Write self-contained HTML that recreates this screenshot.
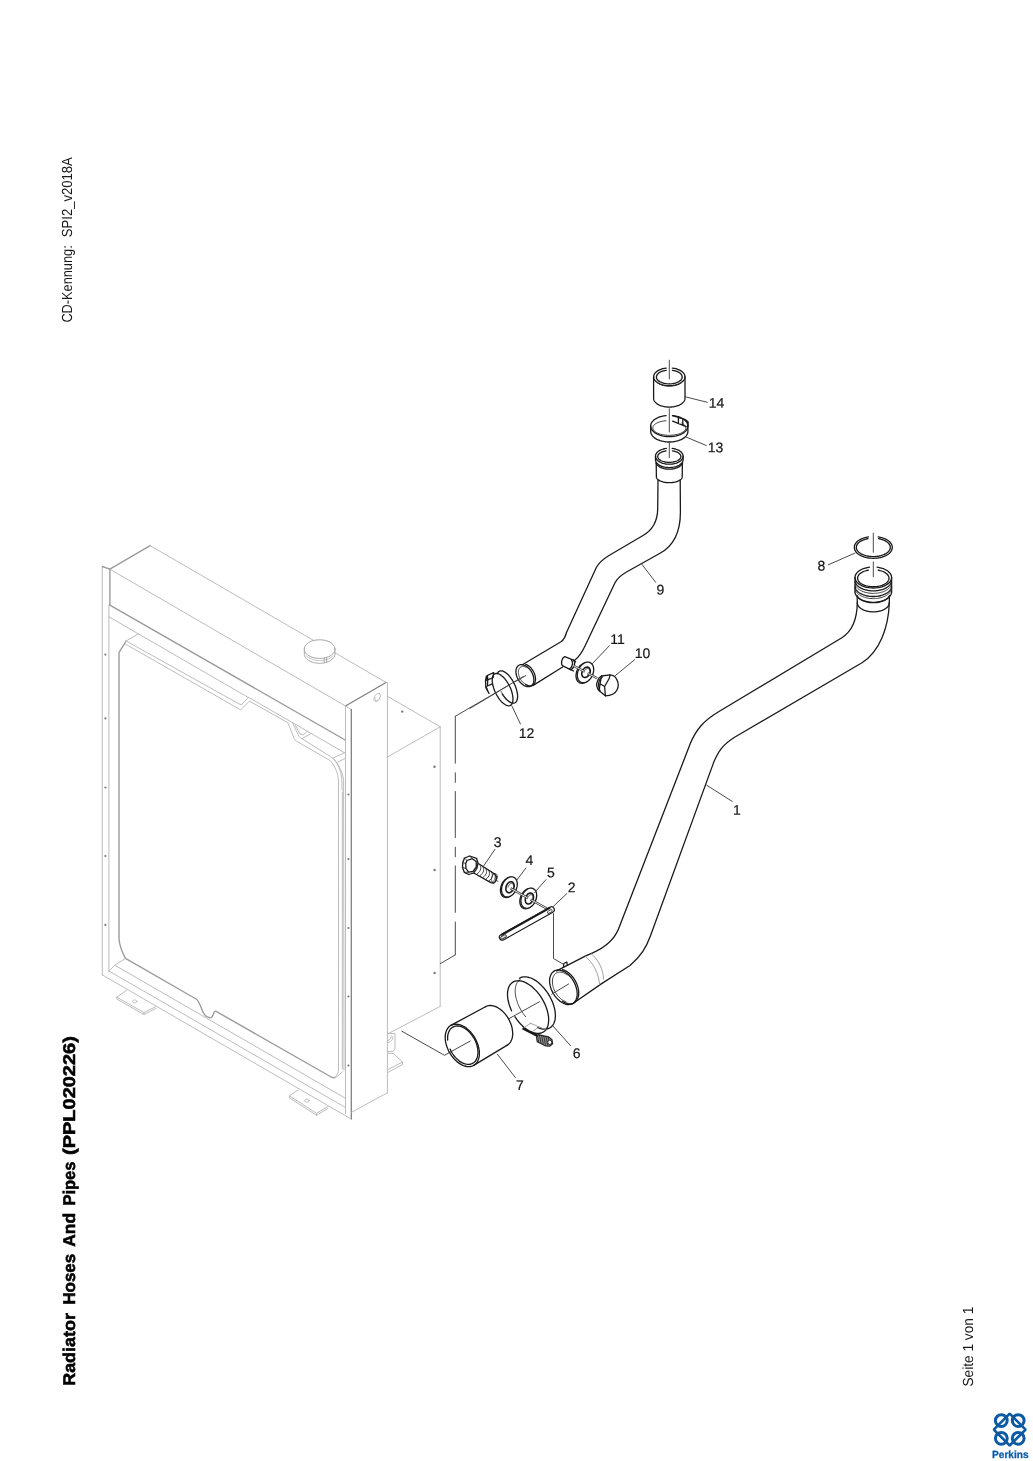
<!DOCTYPE html>
<html><head><meta charset="utf-8"><title>Radiator Hoses And Pipes (PPL020226)</title>
<style>
html,body{margin:0;padding:0;background:#fff;}
body{width:1033px;height:1461px;overflow:hidden;font-family:"Liberation Sans",sans-serif;}
svg{display:block;position:absolute;left:0;top:0;}
text{font-family:"Liberation Sans",sans-serif;text-rendering:geometricPrecision;}
path{fill:none;stroke-linecap:round;stroke-linejoin:round;}
.g1{stroke:#b4b4b4;stroke-width:0.9;}
.g2{stroke:#9c9c9c;stroke-width:1.4;}
.g3{stroke:#808080;stroke-width:1.3;}
.gd{fill:#7a7a7a;stroke:none;}
.gc{stroke:#a4a4a4;stroke-width:1;}
.k{stroke:#1a1a1a;stroke-width:1.3;}
.kw{stroke:#1a1a1a;stroke-width:1.3;fill:#fff;}
.kt{stroke:#2a2a2a;stroke-width:0.9;}
.kl{stroke:#8a8a8a;stroke-width:0.8;}
.ld{stroke:#4a4a4a;stroke-width:1;}
.ax{stroke:#4a4a4a;stroke-width:1;}
.rod{stroke:#333;stroke-width:2.3;stroke-linecap:butt;}
.rodw{stroke:#fff;stroke-width:0.9;stroke-linecap:butt;}
.lbl{fill:#161616;stroke:#161616;stroke-width:0.2;}
text{filter:opacity(1);}
.bl{stroke:#0b5aa2;}
</style></head>
<body>
<svg width="1033" height="1461" viewBox="0 0 1033 1461">
<text transform="translate(75.2,1385.8) rotate(-90)" font-size="17" font-weight="bold" fill="#000" stroke="#000" stroke-width="0.55" textLength="72.7" lengthAdjust="spacingAndGlyphs">Radiator</text>
<text transform="translate(75.2,1304.6) rotate(-90)" font-size="17" font-weight="bold" fill="#000" stroke="#000" stroke-width="0.55" textLength="50.8" lengthAdjust="spacingAndGlyphs">Hoses</text>
<text transform="translate(75.2,1246.7) rotate(-90)" font-size="17" font-weight="bold" fill="#000" stroke="#000" stroke-width="0.55" textLength="33.7" lengthAdjust="spacingAndGlyphs">And</text>
<text transform="translate(75.2,1205.6) rotate(-90)" font-size="17" font-weight="bold" fill="#000" stroke="#000" stroke-width="0.55" textLength="44" lengthAdjust="spacingAndGlyphs">Pipes</text>
<text transform="translate(75.2,1154.9) rotate(-90)" font-size="17" font-weight="bold" fill="#000" stroke="#000" stroke-width="0.55" textLength="118.7" lengthAdjust="spacingAndGlyphs">(PPL020226)</text>
<text transform="translate(72.2,322.6) rotate(-90)" font-size="14.6" fill="#1a1a1a" textLength="77.3" lengthAdjust="spacingAndGlyphs">CD-Kennung:</text>
<text transform="translate(72.2,237.2) rotate(-90)" font-size="14.6" fill="#1a1a1a" textLength="80" lengthAdjust="spacingAndGlyphs">SPI2_v2018A</text>
<text transform="translate(973.3,1386.6) rotate(-90)" font-size="14.6" fill="#1a1a1a" textLength="80" lengthAdjust="spacingAndGlyphs">Seite 1 von 1</text>
<g fill="none" stroke="#0b5aa2">
<path style="stroke-linejoin:bevel;stroke-width:2.6" d="M1009.7,1413.7 L1025.6,1429.6 L1009.7,1445.5 L993.8,1429.6 Z"/>
<circle cx="1001.3" cy="1420.6" r="5.9" stroke-width="3"/>
<circle cx="1018.2" cy="1420.6" r="5.9" stroke-width="3"/>
<circle cx="1001.3" cy="1438.3" r="5.9" stroke-width="3"/>
<circle cx="1018.2" cy="1438.3" r="5.9" stroke-width="3"/>
</g>
<text x="992" y="1458.2" font-size="10.4" font-weight="bold" fill="#0b5aa2" stroke="#0b5aa2" stroke-width="0.25" textLength="36.6" lengthAdjust="spacingAndGlyphs">Perkins</text>
<path class="g1" d="M102.3,566.5 L102.3,974.9" />
<path class="g2" d="M102.3,566.5 L109.9,569.2" />
<path class="g2" d="M109.9,569.2 L109.9,605.2" />
<path class="g1" d="M108.9,605.2 L108.9,971" />
<path class="g2" d="M109.9,569.2 L150.1,545.6" />
<path class="g1" d="M150.1,545.6 L385.8,682.3" />
<path class="g1" d="M109.9,569.2 L345.5,706" />
<path class="g2" d="M109.9,605.2 L345.2,740" />
<path class="g3" d="M345.5,706 L386,682.5" />
<path class="g1" d="M108.9,616.8 L248.5,697.6" />
<path class="g1" d="M345.5,706 L345.5,1113.5" />
<path class="g1" d="M345.5,706 L351.3,709.5" />
<path class="g3" d="M351.3,709.5 L351.3,1119" />
<path class="g1" d="M387.4,682.5 L387.4,1093" />
<path class="g1" d="M351.3,1112.4 L387.4,1092.8" />
<path class="g1" d="M379.3,693.6 L379.6,693.8 L379.8,694.1 L380,694.4 L380.2,694.8 L380.3,695.2 L380.3,695.7 L380.3,696.2 L380.2,696.7 L380.1,697.2 L379.9,697.7 L379.7,698.2 L379.4,698.8 L379.1,699.2 L378.8,699.7 L378.4,700.1 L378,700.5 L377.6,700.8 L377.2,701 L376.8,701.2 L376.4,701.4 L376,701.4 L375.6,701.4 L375.2,701.4 L374.9,701.2 L374.6,701 L374.4,700.7 L374.2,700.4 L374,700 L373.9,699.6 L373.9,699.1 L373.9,698.6 L374,698.1 L374.1,697.6 L374.3,697.1 L374.5,696.6 L374.8,696 L375.1,695.6 L375.4,695.1 L375.8,694.7 L376.2,694.3 L376.6,694 L377,693.8 L377.4,693.6 L377.8,693.4 L378.2,693.4 L378.6,693.4 L379,693.4 L379.3,693.6Z" />
<path class="g1" d="M379.9,697 L379.8,697.2 L379.7,697.4 L379.7,697.6 L379.6,697.8 L379.5,698.1 L379.4,698.3 L379.3,698.5 L379.2,698.7 L379.1,698.9 L378.9,699.1 L378.8,699.3 L378.6,699.4 L378.5,699.6 L378.3,699.8 L378.2,699.9 L378,700.1 L377.8,700.2 L377.7,700.3 L377.5,700.4 L377.3,700.5 L377.2,700.6 L377,700.6 L376.9,700.7 L376.7,700.7 L376.5,700.7 L376.4,700.7 L376.2,700.7 L376.1,700.7 L376,700.6 L375.8,700.6 L375.7,700.5 L375.6,700.4 L375.5,700.3 L375.4,700.2 L375.3,700.1 L375.3,699.9 L375.2,699.8 L375.2,699.6 L375.1,699.5 L375.1,699.3 L375.1,699.1 L375.1,698.9 L375.1,698.7 L375.1,698.5 L375.1,698.3 L375.2,698.1 L375.2,697.9 L375.3,697.7" />
<path class="g1" d="M102.3,974.9 L351.3,1119.1" />
<path class="g1" d="M108.9,971 L345.5,1107.5" />
<path class="g1" d="M114.8,965.2 L345.5,1098.3" />
<path class="g1" d="M108.9,971 L114.8,965.2 L125.5,958.4" />
<path class="g2" d="M126.1,641 L119,652.6 L119,938 C119.3,946 122,952 125.5,958.4 L196.1,999 C199,1001 200.5,1006 202,1009.7 C203.5,1013.5 205,1016 206.8,1016.5 C208.5,1017.5 210.5,1018 211.6,1017.4 C213,1016.5 213.5,1013 214.5,1011.6 C215,1011 215.5,1011 216.2,1011.4 L330.3,1076.5 C332,1077.6 333.5,1078 334.5,1077.5" />
<path class="g1" d="M334.5,1077.5 C337,1076 338.5,1073 338.5,1069 L338.5,781 C338,772 334.5,765.5 330,760.5 L299,742.6 C296.5,741.5 295,740.5 294.2,738.7 L287.9,722.7 L249.4,701.1 L240.7,709.9 L125.3,644" />
<path class="g1" d="M126.1,641 L138.7,633.7 M126.1,641 L241.1,705 L248.4,697.3" />
<path class="g1" d="M248.4,697.3 L292.7,722.7 L298.1,734.8 C299,737 300.5,738 302,738.7 L332.9,758.1 C338,763 342.5,771 343.6,780.3 L344,1070 M343,1071.5 L335.4,1077.8" />
<path class="g1" d="M292.7,722.7 L344.5,752.8" />
<path class="g1" d="M342.3,792 L342.3,1069" />
<path class="g1" d="M295.5,725.5 L300,734 L303.5,735 L307.3,731 M302,738.7 L310.8,733.6" />
<path class="g1" d="M332.9,758.1 L344.5,752.8 M337.8,762 L345,758.6 M334,759.2 C338,764 341,771 341.7,778 L342.1,790" />
<circle class="gd" cx="105.4" cy="654.6" r="1.1"/>
<circle class="gd" cx="105.4" cy="718.4" r="1.1"/>
<circle class="gd" cx="105.4" cy="787.5" r="1.1"/>
<circle class="gd" cx="105.4" cy="856" r="1.1"/>
<circle class="gd" cx="105.4" cy="924.9" r="1.1"/>
<circle class="gd" cx="348.4" cy="794.5" r="1.1"/>
<circle class="gd" cx="348.4" cy="859" r="1.1"/>
<circle class="gd" cx="348.4" cy="928" r="1.1"/>
<circle class="gd" cx="348.4" cy="996.5" r="1.1"/>
<circle class="gd" cx="348.4" cy="1065.5" r="1.1"/>
<path class="g1" d="M126.5,990.4 L116.8,997.1 L143.9,1012.6 L155.5,1006.8 M116.8,997.1 L116.8,999 L143.9,1014.6 L155.5,1008.6 M143.9,1012.6 L143.9,1014.6" />
<path class="g1" d="M136.8,1001.4 L136.8,1001.6 L136.7,1001.8 L136.6,1001.9 L136.5,1002.1 L136.3,1002.3 L136.2,1002.4 L135.9,1002.5 L135.7,1002.6 L135.4,1002.7 L135.2,1002.8 L134.9,1002.8 L134.6,1002.8 L134.3,1002.8 L134,1002.8 L133.8,1002.7 L133.5,1002.6 L133.3,1002.5 L133,1002.4 L132.9,1002.3 L132.7,1002.1 L132.6,1001.9 L132.5,1001.8 L132.4,1001.6 L132.4,1001.4 L132.4,1001.2 L132.5,1001 L132.6,1000.9 L132.7,1000.7 L132.9,1000.5 L133,1000.4 L133.3,1000.3 L133.5,1000.2 L133.8,1000.1 L134,1000 L134.3,1000 L134.6,1000 L134.9,1000 L135.2,1000 L135.4,1000.1 L135.7,1000.2 L135.9,1000.3 L136.2,1000.4 L136.3,1000.5 L136.5,1000.7 L136.6,1000.9 L136.7,1001 L136.8,1001.2 L136.8,1001.4Z" />
<path class="g1" d="M298,1090 L289.4,1095.9 L316.5,1113.3 L328,1106.5 M289.4,1095.9 L289.4,1097.8 L316.5,1115.3 L328,1108.4 M316.5,1113.3 L316.5,1115.3" />
<path class="g1" d="M309,1100.7 L309,1100.9 L308.9,1101.1 L308.8,1101.2 L308.7,1101.4 L308.5,1101.6 L308.4,1101.7 L308.1,1101.8 L307.9,1101.9 L307.6,1102 L307.4,1102.1 L307.1,1102.1 L306.8,1102.1 L306.5,1102.1 L306.2,1102.1 L306,1102 L305.7,1101.9 L305.5,1101.8 L305.2,1101.7 L305.1,1101.6 L304.9,1101.4 L304.8,1101.2 L304.7,1101.1 L304.6,1100.9 L304.6,1100.7 L304.6,1100.5 L304.7,1100.3 L304.8,1100.2 L304.9,1100 L305.1,1099.8 L305.2,1099.7 L305.5,1099.6 L305.7,1099.5 L306,1099.4 L306.2,1099.3 L306.5,1099.3 L306.8,1099.3 L307.1,1099.3 L307.4,1099.3 L307.6,1099.4 L307.9,1099.5 L308.1,1099.6 L308.4,1099.7 L308.5,1099.8 L308.7,1100 L308.8,1100.2 L308.9,1100.3 L309,1100.5 L309,1100.7Z" />
<path class="g1" d="M387.5,696.3 L440.2,726.8" />
<path class="g1" d="M440.2,726.8 L440.2,1006.4" />
<path class="g1" d="M440.2,726.8 L387.5,757" />
<path class="g1" d="M440.2,1006.4 L387.5,1034" />
<circle class="gd" cx="402.2" cy="711.6" r="1.2"/>
<circle class="gd" cx="434.5" cy="766.8" r="1.2"/>
<circle class="gd" cx="434.6" cy="870" r="1.2"/>
<circle class="gd" cx="434.6" cy="973" r="1.2"/>
<path class="g1" d="M387.5,1033.5 L395,1033.5 L395,1048 C395,1050 393,1051.5 391,1051.5 L387.5,1051.5 M387.5,1042.5 C391,1042.5 393,1040 393,1036.5 M387.5,1040.5 C390,1040.5 391.3,1038.5 391.3,1036" />
<path class="g1" d="M388,1053.2 L393.5,1053.6 L402.5,1062 L402.5,1064.6 L388,1072.4 M402.5,1062 L388,1069.6" />
<path class="gc" style="fill:#fff" d="M304.3,649.1 L304.3,654 304.3,654 L304.3,654.6 L304.4,655.2 L304.6,655.8 L304.8,656.4 L305.1,657 L305.5,657.6 L305.9,658.1 L306.3,658.6 L306.9,659.2 L307.5,659.7 L308.1,660.1 L308.8,660.6 L309.5,661 L310.3,661.4 L311.1,661.7 L312,662.1 L312.8,662.3 L313.7,662.6 L314.7,662.8 L315.6,663 L316.6,663.1 L317.6,663.2 L318.6,663.3 L319.6,663.3 L320.6,663.3 L321.6,663.2 L322.6,663.1 L323.6,663 L324.5,662.8 L325.5,662.6 L326.4,662.3 L327.2,662.1 L328.1,661.7 L328.9,661.4 L329.7,661 L330.4,660.6 L331.1,660.1 L331.7,659.7 L332.3,659.2 L332.9,658.6 L333.3,658.1 L333.7,657.6 L334.1,657 L334.4,656.4 L334.6,655.8 L334.8,655.2 L334.9,654.6 L334.9,654 L334.9,649.1 Z"/>
<path class="gc" style="fill:#fff" d="M334.9,649.1 L334.8,650.3 L334.4,651.5 L333.7,652.7 L332.9,653.8 L331.7,654.8 L330.4,655.7 L328.9,656.5 L327.2,657.2 L325.5,657.7 L323.6,658.1 L321.6,658.3 L319.6,658.4 L317.6,658.3 L315.6,658.1 L313.7,657.7 L312,657.2 L310.3,656.5 L308.8,655.7 L307.5,654.8 L306.3,653.8 L305.5,652.7 L304.8,651.5 L304.4,650.3 L304.3,649.1 L304.4,647.9 L304.8,646.7 L305.5,645.5 L306.3,644.5 L307.5,643.4 L308.8,642.5 L310.3,641.7 L311.9,641 L313.7,640.5 L315.6,640.1 L317.6,639.9 L319.6,639.8 L321.6,639.9 L323.6,640.1 L325.5,640.5 L327.2,641 L328.9,641.7 L330.4,642.5 L331.7,643.4 L332.9,644.5 L333.7,645.5 L334.4,646.7 L334.8,647.9 L334.9,649.1Z"/>
<path class="g1" d="M306.3,655.9 L306.7,656.2 L307.1,656.5 L307.5,656.9 L307.9,657.2 L308.3,657.5 L308.8,657.8 L309.3,658.1 L309.8,658.3 L310.3,658.6 L310.8,658.8 L311.4,659 L312,659.3 L312.5,659.4 L313.1,659.6 L313.7,659.8 L314.4,659.9 L315,660.1 L315.6,660.2 L316.3,660.3 L316.9,660.4 L317.6,660.4 L318.3,660.5 L318.9,660.5 L319.6,660.5 L320.3,660.5 L320.9,660.5 L321.6,660.4 L322.3,660.4 L322.9,660.3 L323.6,660.2 L324.2,660.1 L324.8,659.9 L325.5,659.8 L326.1,659.6 L326.7,659.4 L327.2,659.3 L327.8,659 L328.4,658.8 L328.9,658.6 L329.4,658.3 L329.9,658.1 L330.4,657.8 L330.9,657.5 L331.3,657.2 L331.7,656.9 L332.1,656.5 L332.5,656.2 L332.9,655.9" />
<path class="gc" d="M324.3,658 L324.3,662.6 M326.7,657.6 L326.7,662.1" />
<path class="ax" d="M523.5,676.5 L455.3,716.3" />
<path class="ax" d="M455.3,716.3 L455.3,763.2" />
<path class="ax" d="M455.3,772.8 L455.3,782.4" />
<path class="ax" d="M455.3,791.5 L455.3,837.7" />
<path class="ax" d="M455.3,847.2 L455.3,856.8" />
<path class="ax" d="M455.3,865.9 L455.3,912.4" />
<path class="ax" d="M455.3,922 L455.3,954.8" />
<path class="ax" d="M455.3,954.9 L440.3,963.6" />
<path class="ax" d="M401.8,1031.2 L444.5,1055.3 L470.3,1041" />
<path class="ax" d="M669.3,360.2 L669.3,379" />
<path class="k" d="M672.3,368.1 L674.2,368.3 L676,368.7 L677.6,369.3 L679.2,369.9 L680.6,370.6 L681.9,371.5 L682.9,372.4 L683.8,373.4 L684.4,374.4 L684.8,375.5 L685,376.6 L684.9,377.7 L684.6,378.7 L684.1,379.8 L683.3,380.8 L682.4,381.7 L681.2,382.6 L679.9,383.4 L678.4,384.1 L676.7,384.6 L675,385.1 L673.1,385.4 L671.2,385.6 L669.3,385.7 L667.4,385.6 L665.5,385.4 L663.6,385.1 L661.9,384.6 L660.2,384.1 L658.7,383.4 L657.4,382.6 L656.2,381.7 L655.3,380.8 L654.5,379.8 L654,378.7 L653.7,377.7 L653.6,376.6 L653.8,375.5 L654.2,374.4 L654.8,373.4 L655.7,372.4 L656.7,371.5 L658,370.6 L659.4,369.9 L661,369.3 L662.6,368.7 L664.4,368.3 L666.3,368.1" />
<path class="k" d="M672.4,370.3 L673.9,370.6 L675.3,370.9 L676.7,371.3 L677.9,371.8 L679,372.4 L679.9,373.1 L680.7,373.8 L681.4,374.6 L681.8,375.4 L682.1,376.2 L682.2,377 L682.1,377.8 L681.8,378.7 L681.4,379.5 L680.7,380.2 L679.9,380.9 L678.9,381.6 L677.8,382.2 L676.6,382.7 L675.3,383.1 L673.9,383.5 L672.4,383.7 L670.9,383.8 L669.3,383.9 L667.7,383.8 L666.2,383.7 L664.7,383.5 L663.3,383.1 L662,382.7 L660.8,382.2 L659.7,381.6 L658.7,380.9 L657.9,380.2 L657.2,379.5 L656.8,378.7 L656.5,377.8 L656.4,377 L656.5,376.2 L656.8,375.4 L657.2,374.6 L657.9,373.8 L658.7,373.1 L659.6,372.4 L660.7,371.8 L661.9,371.3 L663.3,370.9 L664.7,370.6 L666.2,370.3" />
<path class="kt" d="M682.6,381 L682.4,381.4 L682.1,381.8 L681.7,382.1 L681.4,382.5 L681,382.8 L680.6,383.2 L680.1,383.5 L679.6,383.8 L679.1,384.1 L678.6,384.4 L678,384.6 L677.4,384.9 L676.8,385.1 L676.2,385.3 L675.6,385.5 L674.9,385.6 L674.3,385.8 L673.6,385.9 L672.9,386 L672.2,386.1 L671.5,386.2 L670.7,386.3 L670,386.3 L669.3,386.3 L668.6,386.3 L667.9,386.3 L667.1,386.2 L666.4,386.1 L665.7,386 L665,385.9 L664.3,385.8 L663.7,385.6 L663,385.5 L662.4,385.3 L661.8,385.1 L661.2,384.9 L660.6,384.6 L660,384.4 L659.5,384.1 L659,383.8 L658.5,383.5 L658,383.2 L657.6,382.8 L657.2,382.5 L656.9,382.1 L656.5,381.8 L656.2,381.4 L656,381" />
<path class="k" d="M653.6,376.8 L653.6,398.2 653.6,398.2 L653.6,398.8 L653.7,399.4 L653.9,399.9 L654.1,400.5 L654.4,401.1 L654.8,401.6 L655.2,402.1 L655.7,402.6 L656.2,403.1 L656.8,403.6 L657.5,404.1 L658.2,404.5 L658.9,404.9 L659.7,405.3 L660.6,405.6 L661.4,405.9 L662.4,406.2 L663.3,406.4 L664.3,406.6 L665.2,406.8 L666.2,406.9 L667.3,407 L668.3,407.1 L669.3,407.1 L670.3,407.1 L671.3,407 L672.4,406.9 L673.4,406.8 L674.3,406.6 L675.3,406.4 L676.2,406.2 L677.1,405.9 L678,405.6 L678.9,405.3 L679.7,404.9 L680.4,404.5 L681.1,404.1 L681.8,403.6 L682.4,403.1 L682.9,402.6 L683.4,402.1 L683.8,401.6 L684.2,401.1 L684.5,400.5 L684.7,399.9 L684.9,399.4 L685,398.8 L685,398.2 L685,376.8" />
<path class="ax" d="M669.3,408.7 L669.3,432" />
<path class="k" d="M672.5,415.6 L674.8,415.9 L676.9,416.3 L678.9,416.9 L680.8,417.7 L682.5,418.6 L684.1,419.5 L685.3,420.6 L686.4,421.8 L687.2,423 L687.7,424.3 L687.9,425.6 L687.8,426.9 L687.5,428.2 L686.9,429.5 L686,430.7 L684.8,431.8 L683.5,432.9 L681.9,433.8 L680.1,434.6 L678.1,435.3 L676,435.9 L673.9,436.3 L671.6,436.5 L669.3,436.6 L667,436.5 L664.7,436.3 L662.6,435.9 L660.5,435.3 L658.5,434.6 L656.7,433.8 L655.1,432.9 L653.8,431.8 L652.6,430.7 L651.7,429.5 L651.1,428.2 L650.8,426.9 L650.7,425.6 L650.9,424.3 L651.4,423 L652.2,421.8 L653.3,420.6 L654.5,419.5 L656.1,418.6 L657.8,417.7 L659.7,416.9 L661.7,416.3 L663.8,415.9 L666.1,415.6" />
<path class="kt" d="M681.9,423.1 L683,423.8 L683.9,424.5 L684.7,425.2 L685.2,426 L685.6,426.7 L685.8,427.5 L685.8,428.3 L685.6,429.1 L685.2,429.9 L684.6,430.7 L683.8,431.4 L682.9,432.1 L681.8,432.7 L680.6,433.3 L679.2,433.8 L677.7,434.3 L676.1,434.6 L674.5,434.9 L672.7,435.1 L671,435.3 L669.2,435.3 L667.4,435.3 L665.6,435.1 L663.9,434.9 L662.3,434.6 L660.7,434.2 L659.2,433.8 L657.9,433.2 L656.7,432.7 L655.6,432 L654.7,431.3 L653.9,430.6 L653.4,429.8 L653,429 L652.8,428.2 L652.8,427.4 L653,426.7 L653.4,425.9 L654,425.1 L654.8,424.4 L655.7,423.7 L656.8,423.1 L658,422.5 L659.4,422 L660.9,421.5 L662.5,421.2 L664.1,420.9 L665.9,420.7" />
<path class="k" d="M650.7,426 L650.7,431.4 650.7,431.4 L650.7,432.1 L650.9,432.8 L651.1,433.5 L651.3,434.1 L651.7,434.8 L652.1,435.5 L652.6,436.1 L653.2,436.7 L653.8,437.3 L654.5,437.9 L655.3,438.4 L656.1,438.9 L657,439.4 L658,439.8 L659,440.2 L660,440.6 L661.1,440.9 L662.2,441.2 L663.3,441.4 L664.5,441.6 L665.7,441.8 L666.9,441.9 L668.1,442 L669.3,442 L670.5,442 L671.7,441.9 L672.9,441.8 L674.1,441.6 L675.3,441.4 L676.4,441.2 L677.5,440.9 L678.6,440.6 L679.6,440.2 L680.6,439.8 L681.6,439.4 L682.5,438.9 L683.3,438.4 L684.1,437.9 L684.8,437.3 L685.4,436.7 L686,436.1 L686.5,435.5 L686.9,434.8 L687.3,434.1 L687.5,433.5 L687.7,432.8 L687.9,432.1 L687.9,431.4 L687.9,426" />
<path class="k" d="M672.6,415.6 L684.2,419.2 L688,421.7 L688,426 M678.4,417.5 L678.4,423.6 M682.8,419.5 L682.8,425.2 M672.6,421.2 L686.2,426.6" />
<path class="k" d="M685.5,419.8 L687.6,421.8 L687.6,424.5" />
<path class="ax" d="M669.3,442.6 L669.3,457.6" />
<path class="k" d="M672.2,448.4 L673.8,448.6 L675.3,449 L676.8,449.5 L678.2,450.1 L679.4,450.7 L680.5,451.5 L681.4,452.3 L682.1,453.2 L682.6,454.1 L683,455.1 L683.1,456.1 L683,457 L682.7,458 L682.3,458.9 L681.6,459.8 L680.7,460.7 L679.7,461.4 L678.5,462.1 L677.2,462.8 L675.8,463.3 L674.2,463.7 L672.6,464 L671,464.1 L669.3,464.2 L667.6,464.1 L666,464 L664.4,463.7 L662.8,463.3 L661.4,462.8 L660.1,462.1 L658.9,461.4 L657.9,460.7 L657,459.8 L656.3,458.9 L655.9,458 L655.6,457 L655.5,456.1 L655.6,455.1 L656,454.1 L656.5,453.2 L657.2,452.3 L658.1,451.5 L659.2,450.7 L660.4,450.1 L661.8,449.5 L663.3,449 L664.8,448.6 L666.4,448.4" />
<path class="k" d="M672.5,450.8 L673.8,451.1 L675,451.4 L676.2,451.8 L677.3,452.2 L678.2,452.7 L679,453.3 L679.7,453.9 L680.2,454.5 L680.6,455.2 L680.8,455.9 L680.9,456.6 L680.8,457.3 L680.5,458 L680.1,458.7 L679.5,459.3 L678.8,459.9 L677.9,460.5 L676.9,461 L675.8,461.4 L674.6,461.7 L673.4,462 L672,462.2 L670.7,462.4 L669.3,462.4 L667.9,462.4 L666.6,462.2 L665.2,462 L664,461.7 L662.8,461.4 L661.7,461 L660.7,460.5 L659.8,459.9 L659.1,459.3 L658.5,458.7 L658.1,458 L657.8,457.3 L657.7,456.6 L657.8,455.9 L658,455.2 L658.4,454.5 L658.9,453.9 L659.6,453.3 L660.4,452.7 L661.3,452.2 L662.4,451.8 L663.6,451.4 L664.8,451.1 L666.1,450.8" />
<path class="k" d="M655.5,456.2 L655.5,459.6 655.5,459.6 L655.5,460.1 L655.6,460.6 L655.8,461.2 L656,461.7 L656.2,462.2 L656.6,462.7 L656.9,463.1 L657.3,463.6 L657.8,464 L658.4,464.5 L658.9,464.9 L659.5,465.3 L660.2,465.6 L660.9,465.9 L661.6,466.3 L662.4,466.5 L663.2,466.8 L664,467 L664.9,467.2 L665.7,467.3 L666.6,467.4 L667.5,467.5 L668.4,467.6 L669.3,467.6 L670.2,467.6 L671.1,467.5 L672,467.4 L672.9,467.3 L673.7,467.2 L674.6,467 L675.4,466.8 L676.2,466.5 L677,466.3 L677.7,465.9 L678.4,465.6 L679.1,465.3 L679.7,464.9 L680.2,464.5 L680.8,464 L681.3,463.6 L681.7,463.1 L682,462.7 L682.4,462.2 L682.6,461.7 L682.8,461.2 L683,460.6 L683.1,460.1 L683.1,459.6 L683.1,456.2" />
<path class="k" d="M656,463 L656.2,463.5 L656.4,463.9 L656.7,464.3 L657,464.7 L657.3,465.1 L657.7,465.5 L658.1,465.8 L658.6,466.2 L659.1,466.5 L659.6,466.9 L660.2,467.2 L660.7,467.5 L661.4,467.7 L662,468 L662.7,468.2 L663.3,468.4 L664,468.6 L664.8,468.8 L665.5,468.9 L666.2,469 L667,469.1 L667.8,469.1 L668.5,469.2 L669.3,469.2 L670.1,469.2 L670.8,469.1 L671.6,469.1 L672.4,469 L673.1,468.9 L673.8,468.8 L674.6,468.6 L675.3,468.4 L675.9,468.2 L676.6,468 L677.2,467.7 L677.9,467.5 L678.4,467.2 L679,466.9 L679.5,466.5 L680,466.2 L680.5,465.8 L680.9,465.5 L681.3,465.1 L681.6,464.7 L681.9,464.3 L682.2,463.9 L682.4,463.5 L682.6,463" />
<path class="k" d="M656.2,462.8 L656.4,476.8 656.4,476.8 L656.4,477.2 L656.5,477.6 L656.6,478 L656.8,478.3 L657.1,478.7 L657.4,479.1 L657.7,479.4 L658.1,479.8 L658.6,480.1 L659.1,480.4 L659.6,480.7 L660.2,481 L660.8,481.2 L661.4,481.5 L662.1,481.7 L662.8,481.9 L663.6,482.1 L664.4,482.3 L665.2,482.4 L666,482.5 L666.8,482.6 L667.6,482.6 L668.5,482.7 L669.3,482.7 L670.1,482.7 L671,482.6 L671.8,482.6 L672.6,482.5 L673.4,482.4 L674.2,482.3 L675,482.1 L675.8,481.9 L676.5,481.7 L677.2,481.5 L677.8,481.2 L678.4,481 L679,480.7 L679.5,480.4 L680,480.1 L680.5,479.8 L680.9,479.4 L681.2,479.1 L681.5,478.7 L681.8,478.3 L682,478 L682.1,477.6 L682.2,477.2 L682.2,476.8 L682.4,462.8" />
<path class="k" d="M658,480 L657.7,509 C657.5,522 652,530.5 642.6,535.8 L609,555.5 C602.5,559.5 598.5,563 596.2,567.8 L566.5,632.5 C565.5,636.5 564,639.5 561,641.8 L522.3,664.8" />
<path class="k" d="M680.2,480 L680.4,512 C680.5,532 673,546 660,553.3 L626.5,572 C620.5,575.5 617.5,578 615,582.8 L585,646 C582,652.5 579.5,656.5 574.5,660.5" />
<path class="k" d="M532.8,685.6 L562.6,667" />
<path class="k" d="M533.9,679.9 L533.8,681.2 L533.6,682.4 L533.2,683.5 L532.7,684.4 L532,685.3 L531.3,685.9 L530.4,686.4 L529.4,686.7 L528.3,686.7 L527.2,686.7 L526.1,686.4 L524.9,685.9 L523.7,685.3 L522.6,684.5 L521.5,683.5 L520.4,682.5 L519.4,681.3 L518.5,680 L517.8,678.6 L517.1,677.2 L516.6,675.7 L516.2,674.3 L516,672.9 L515.9,671.5 L516,670.2 L516.2,669 L516.6,667.9 L517.1,667 L517.8,666.1 L518.5,665.5 L519.4,665 L520.4,664.7 L521.5,664.7 L522.6,664.7 L523.7,665 L524.9,665.5 L526.1,666.1 L527.2,666.9 L528.3,667.9 L529.4,668.9 L530.4,670.1 L531.3,671.4 L532,672.8 L532.7,674.2 L533.2,675.7 L533.6,677.1 L533.8,678.5 L533.9,679.9Z" />
<path class="k" d="M525.7,664.3 L526.3,664.5 L527,664.8 L527.6,665.2 L528.2,665.6 L528.8,666 L529.4,666.5 L530,667 L530.5,667.6 L531.1,668.1 L531.6,668.8 L532.1,669.4 L532.6,670.1 L533,670.8 L533.4,671.5 L533.8,672.3 L534.2,673 L534.5,673.8 L534.7,674.5 L535,675.3 L535.2,676.1 L535.3,676.8 L535.4,677.6 L535.5,678.3 L535.5,679 L535.5,679.7 L535.4,680.4 L535.3,681 L535.2,681.6 L535,682.2 L534.7,682.8 L534.5,683.3 L534.2,683.7 L533.8,684.2 L533.4,684.5 L533,684.9 L532.6,685.2 L532.1,685.4 L531.6,685.6 L531.1,685.7 L530.5,685.8 L530,685.8 L529.4,685.8 L528.8,685.8 L528.2,685.6 L527.6,685.4 L527,685.2 L526.3,684.9 L525.7,684.6" />
<path class="kt" d="M526.9,684.6 L526.3,684.5 L525.8,684.3 L525.3,684 L524.8,683.7 L524.3,683.4 L523.8,683 L523.3,682.6 L522.8,682.2 L522.4,681.7 L521.9,681.2 L521.5,680.7 L521.1,680.1 L520.7,679.6 L520.3,679 L520,678.3 L519.7,677.7 L519.4,677.1 L519.2,676.4 L519,675.8 L518.8,675.1 L518.6,674.5 L518.5,673.8 L518.4,673.2 L518.4,672.6 L518.4,672 L518.4,671.4 L518.5,670.8 L518.6,670.3 L518.7,669.7 L518.9,669.3 L519.1,668.8 L519.4,668.4 L519.6,668 L519.9,667.6 L520.3,667.3 L520.6,667.1 L521,666.9 L521.4,666.7 L521.8,666.5 L522.3,666.4 L522.7,666.4 L523.2,666.4 L523.7,666.5 L524.2,666.6 L524.7,666.7 L525.2,666.9 L525.7,667.1 L526.2,667.4" />
<path class="k" d="M564.7,656.6 C561.5,658 560.5,664 562.8,665.9 L570.9,669.8 M564.7,656.6 L573.6,660.1" />
<path class="k" d="M573.6,660.1 C575.8,662 574.5,668 570.9,669.8 M571.6,660.3 C573.6,662.5 572.3,667.5 569.3,669" />
<path class="k" d="M574.3,661 L575.6,661.8 M571.8,670.2 L573.6,671" />
<path class="kw" d="M592.4,670.2 L592.3,671.5 L592.1,672.9 L591.8,674.2 L591.3,675.5 L590.7,676.8 L590,678 L589.2,679.2 L588.3,680.2 L587.3,681.1 L586.3,681.8 L585.3,682.5 L584.2,682.9 L583.1,683.2 L582.1,683.3 L581.1,683.2 L580.1,683 L579.2,682.6 L578.4,682 L577.7,681.3 L577.1,680.4 L576.6,679.4 L576.3,678.3 L576.1,677.1 L576,675.8 L576.1,674.5 L576.3,673.1 L576.6,671.8 L577.1,670.5 L577.7,669.2 L578.4,668 L579.2,666.8 L580.1,665.8 L581.1,664.9 L582.1,664.2 L583.1,663.5 L584.2,663.1 L585.3,662.8 L586.3,662.7 L587.3,662.8 L588.3,663 L589.2,663.4 L590,664 L590.7,664.7 L591.3,665.6 L591.8,666.6 L592.1,667.7 L592.3,668.9 L592.4,670.2Z"/>
<path class="kw" d="M593.7,669.6 L593.6,670.9 L593.4,672.3 L593.1,673.6 L592.6,674.9 L592,676.2 L591.3,677.4 L590.5,678.6 L589.6,679.6 L588.6,680.5 L587.6,681.2 L586.6,681.9 L585.5,682.3 L584.4,682.6 L583.4,682.7 L582.4,682.6 L581.4,682.4 L580.5,682 L579.7,681.4 L579,680.7 L578.4,679.8 L577.9,678.8 L577.6,677.7 L577.4,676.5 L577.3,675.2 L577.4,673.9 L577.6,672.5 L577.9,671.2 L578.4,669.9 L579,668.6 L579.7,667.4 L580.5,666.2 L581.4,665.2 L582.4,664.3 L583.4,663.6 L584.4,662.9 L585.5,662.5 L586.6,662.2 L587.6,662.1 L588.6,662.2 L589.6,662.4 L590.5,662.8 L591.3,663.4 L592,664.1 L592.6,665 L593.1,666 L593.4,667.1 L593.6,668.3 L593.7,669.6Z"/>
<path class="kw" style="stroke-width:1.6" d="M590.2,670.9 L590.2,671.6 L590.1,672.2 L589.9,672.9 L589.6,673.6 L589.3,674.2 L589,674.9 L588.6,675.4 L588.1,675.9 L587.6,676.4 L587.1,676.8 L586.5,677.1 L586,677.3 L585.5,677.4 L584.9,677.5 L584.4,677.5 L583.9,677.3 L583.4,677.1 L583,676.8 L582.7,676.5 L582.4,676 L582.1,675.5 L581.9,674.9 L581.8,674.3 L581.8,673.7 L581.8,673 L581.9,672.4 L582.1,671.7 L582.4,671 L582.7,670.4 L583,669.7 L583.4,669.2 L583.9,668.7 L584.4,668.2 L584.9,667.8 L585.5,667.5 L586,667.3 L586.5,667.2 L587.1,667.1 L587.6,667.1 L588.1,667.3 L588.6,667.5 L589,667.8 L589.3,668.1 L589.6,668.6 L589.9,669.1 L590.1,669.7 L590.2,670.3 L590.2,670.9Z"/>
<path class="kt" d="M584.1,672.2 L584.2,671.8 L584.3,671.5 L584.4,671.2 L584.6,670.9 L584.7,670.6 L584.9,670.3 L585.1,670.1 L585.3,669.8 L585.5,669.6 L585.8,669.4 L586,669.2 L586.3,669 L586.5,668.9 L586.7,668.8 L587,668.7 L587.2,668.6 L587.5,668.6 L587.7,668.6 L588,668.6 L588.2,668.7 L588.4,668.7 L588.6,668.8 L588.8,669 L589,669.1 L589.2,669.3 L589.3,669.5 L589.5,669.7 L589.6,670 L589.7,670.2 L589.8,670.5 L589.8,670.8 L589.9,671.1 L589.9,671.4 L589.9,671.7 L589.9,672 L589.8,672.3 L589.8,672.7 L589.7,673 L589.6,673.3 L589.5,673.6 L589.3,673.9 L589.2,674.2 L589,674.5 L588.8,674.8 L588.6,675 L588.4,675.3 L588.2,675.5 L587.9,675.7" />
<path class="rod" d="M573,665.5 L584,671.3" />
<path class="rodw" d="M573,665.5 L584,671.3" />
<path class="rod" d="M587.5,673.2 L597.2,678.3" />
<path class="rodw" d="M587.5,673.2 L597.2,678.3" />
<path class="kw" d="M601.5,676 L610,674.8 C613,675 616,677.5 617,679.9 C618.5,683 618.5,687 617,690 C615.5,693 612,695.8 605.4,695.8 L599.2,690.7 C596.5,688 596.3,684 597.5,681 C598.5,678.5 600,676.5 601.5,676 Z" />
<path class="k" d="M601.5,676 L600,683.8 L599.2,690.7 M600,683.8 L604.6,686.5 L609.3,678.3 M604.6,686.5 L605.4,695.8 M609.3,678.3 L610,674.8" />
<path class="k" d="M602.3,677 C600,678.5 598.5,682 598.6,685.5 C598.7,688 599.3,689.5 600,690.5" />
<path class="k" d="M497.4,673.6 L497.8,672.7 L498.3,672 L498.9,671.5 L499.6,671.1 L500.4,670.9 L501.2,670.8 L502.1,670.9 L503,671.2 L504,671.6 L505,672.2 L506.1,672.9 L507.1,673.8 L508.2,674.8 L509.2,675.9 L510.2,677.2 L511.2,678.6 L512.2,680 L513.1,681.5 L513.9,683.1 L514.7,684.7 L515.4,686.3 L516,687.9 L516.5,689.6 L516.9,691.2 L517.2,692.7 L517.5,694.2 L517.6,695.7 L517.6,697 L517.5,698.2 L517.3,699.3 L517,700.3 L516.6,701.2 L516.1,701.9 L515.5,702.5 L514.8,702.9 L514.1,703.1 L513.3,703.2 L512.4,703.1 L511.5,702.9 L510.5,702.4 L509.5,701.9 L508.4,701.1 L507.4,700.3 L506.3,699.3 L505.3,698.1 L504.3,696.9 L503.3,695.6 L502.3,694.1" />
<path class="k" d="M513,699.1 L512.9,700.7 L512.6,702.2 L512.2,703.4 L511.6,704.4 L510.9,705.1 L510,705.6 L508.9,705.8 L507.8,705.7 L506.6,705.4 L505.3,704.7 L504,703.8 L502.6,702.7 L501.2,701.4 L499.9,699.8 L498.6,698.1 L497.4,696.2 L496.3,694.2 L495.2,692.2 L494.3,690.1 L493.6,687.9 L493,685.8 L492.6,683.8 L492.3,681.9 L492.2,680.1 L492.3,678.5 L492.6,677 L493,675.8 L493.6,674.8 L494.3,674.1 L495.2,673.6 L496.3,673.4 L497.4,673.5 L498.6,673.8 L499.9,674.5 L501.2,675.4 L502.6,676.5 L504,677.8 L505.3,679.4 L506.6,681.1 L507.8,683 L508.9,685 L510,687 L510.9,689.1 L511.6,691.3 L512.2,693.4 L512.6,695.4 L512.9,697.3 L513,699.1Z" />
<path class="kt" d="M506.1,698.5 L506,698.4 L505.9,698.3 L505.7,698.1 L505.6,698 L505.5,697.9 L505.4,697.8 L505.3,697.6 L505.2,697.5 L505.1,697.4 L505,697.3 L504.9,697.1 L504.7,697 L504.6,696.9 L504.5,696.7 L504.4,696.6 L504.3,696.4 L504.2,696.3 L504.1,696.2 L504,696 L503.9,695.9 L503.8,695.7 L503.7,695.6 L503.6,695.4 L503.5,695.3 L503.4,695.1 L503.2,695 L503.1,694.8 L503,694.7 L502.9,694.5 L502.8,694.4 L502.7,694.2 L502.6,694 L502.5,693.9 L502.4,693.7 L502.3,693.6 L502.2,693.4 L502.1,693.2 L502,693.1 L501.9,692.9 L501.8,692.7 L501.8,692.6 L501.7,692.4 L501.6,692.2 L501.5,692.1 L501.4,691.9 L501.3,691.7 L501.2,691.6 L501.1,691.4" />
<path class="k" d="M493.6,672.7 L487.4,675.5 C486,677 485.5,678.5 485.5,680.6 L485.9,687.6 L489,693.4" />
<path class="k" d="M487.4,675.5 L487.8,679.8 L493.2,677.5 L493.6,672.7 M487.8,679.8 L487.4,686 L492.3,683.9 M486.3,676.5 L486.8,680.3 M486,686.5 L487.6,690.5" />
<path class="ax" d="M470,708.4 L507.6,686" />
<path class="ax" d="M514.9,681.7 L525.8,675.6" />
<text transform="translate(708.7,407.8) rotate(0.03)" text-anchor="start" font-size="14" class="lbl">14</text>
<path class="ld" d="M684.9,396.7 L707.3,402.3" />
<text transform="translate(707.8,452.3) rotate(0.03)" text-anchor="start" font-size="14" class="lbl">13</text>
<path class="ld" d="M685.5,436.8 L706.3,445.5" />
<text transform="translate(660.3,594.5) rotate(0.03)" text-anchor="middle" font-size="14" class="lbl">9</text>
<path class="ld" d="M641.2,563.4 L655.7,582.3" />
<text transform="translate(610.3,643.9) rotate(0.03)" text-anchor="start" font-size="14" class="lbl">11</text>
<path class="ld" d="M609.4,645.7 L592,664" />
<text transform="translate(634.7,657.9) rotate(0.03)" text-anchor="start" font-size="14" class="lbl">10</text>
<path class="ld" d="M634.7,659.6 L614.6,676.2" />
<text transform="translate(518.8,738) rotate(0.03)" text-anchor="start" font-size="14" class="lbl">12</text>
<path class="ld" d="M511.8,705.8 L520.5,724.1" />
<path class="ax" d="M873.3,533.1 L873.3,552.3" />
<path class="k" d="M878.2,536.9 L880.4,537.3 L882.4,537.8 L884.4,538.5 L886.1,539.4 L887.7,540.3 L889.1,541.3 L890.2,542.5 L891.2,543.7 L891.8,544.9 L892.2,546.2 L892.3,547.5 L892.1,548.8 L891.7,550.1 L891,551.4 L890.1,552.5 L888.9,553.7 L887.4,554.7 L885.8,555.6 L884,556.4 L882.1,557.1 L880,557.6 L877.8,558 L875.6,558.2 L873.3,558.3 L871,558.2 L868.8,558 L866.6,557.6 L864.5,557.1 L862.6,556.4 L860.8,555.6 L859.2,554.7 L857.7,553.7 L856.5,552.5 L855.6,551.4 L854.9,550.1 L854.5,548.8 L854.3,547.5 L854.4,546.2 L854.8,544.9 L855.4,543.7 L856.4,542.5 L857.5,541.3 L858.9,540.3 L860.5,539.4 L862.2,538.5 L864.2,537.8 L866.2,537.3 L868.4,536.9" />
<path class="k" d="M878.6,538.7 L880.4,539 L882.2,539.6 L883.8,540.2 L885.3,540.9 L886.7,541.7 L887.8,542.6 L888.7,543.5 L889.5,544.6 L890,545.6 L890.2,546.7 L890.3,547.8 L890.1,548.8 L889.7,549.9 L889,550.9 L888.1,551.9 L887.1,552.8 L885.8,553.6 L884.3,554.4 L882.7,555 L881,555.6 L879.2,556 L877.3,556.3 L875.3,556.5 L873.3,556.6 L871.3,556.5 L869.3,556.3 L867.4,556 L865.6,555.6 L863.9,555 L862.3,554.4 L860.8,553.6 L859.5,552.8 L858.5,551.9 L857.6,550.9 L856.9,549.9 L856.5,548.8 L856.3,547.8 L856.4,546.7 L856.6,545.6 L857.1,544.6 L857.9,543.5 L858.8,542.6 L859.9,541.7 L861.3,540.9 L862.8,540.2 L864.4,539.6 L866.2,539 L868,538.7" />
<path class="ax" d="M873.3,561.9 L873.3,576.7" />
<path class="k" d="M877.1,567.2 L879.3,567.6 L881.3,568.1 L883.3,568.7 L885.1,569.5 L886.7,570.3 L888.1,571.3 L889.3,572.4 L890.3,573.6 L891,574.8 L891.4,576 L891.6,577.3 L891.5,578.6 L891.1,579.9 L890.5,581.1 L889.6,582.3 L888.5,583.4 L887.1,584.4 L885.5,585.3 L883.8,586.1 L881.9,586.8 L879.9,587.3 L877.7,587.7 L875.5,587.9 L873.3,588 L871.1,587.9 L868.9,587.7 L866.7,587.3 L864.7,586.8 L862.8,586.1 L861.1,585.3 L859.5,584.4 L858.1,583.4 L857,582.3 L856.1,581.1 L855.5,579.9 L855.1,578.6 L855,577.3 L855.2,576 L855.6,574.8 L856.3,573.6 L857.3,572.4 L858.5,571.3 L859.9,570.3 L861.5,569.5 L863.3,568.7 L865.3,568.1 L867.3,567.6 L869.5,567.2" />
<path class="k" d="M878.2,570.1 L879.9,570.5 L881.5,571 L883,571.5 L884.4,572.2 L885.6,572.9 L886.7,573.8 L887.6,574.6 L888.2,575.6 L888.7,576.5 L889,577.5 L889,578.5 L888.8,579.5 L888.4,580.5 L887.8,581.5 L887,582.4 L886,583.2 L884.8,584 L883.5,584.7 L882,585.3 L880.4,585.8 L878.7,586.2 L877,586.5 L875.1,586.6 L873.3,586.7 L871.5,586.6 L869.6,586.5 L867.9,586.2 L866.2,585.8 L864.6,585.3 L863.1,584.7 L861.8,584 L860.6,583.2 L859.6,582.4 L858.8,581.5 L858.2,580.5 L857.8,579.5 L857.6,578.5 L857.6,577.5 L857.9,576.5 L858.4,575.6 L859,574.6 L859.9,573.8 L861,572.9 L862.2,572.2 L863.6,571.5 L865.1,571 L866.7,570.5 L868.4,570.1" />
<path class="k" d="M855,577.5 L855,591.8 M891.6,577.5 L891.6,591.8" />
<path class="k" d="M855.2,581.9 L855.4,582.5 L855.6,583.1 L855.9,583.7 L856.3,584.3 L856.7,584.9 L857.2,585.4 L857.8,586 L858.4,586.5 L859,587 L859.7,587.4 L860.5,587.9 L861.3,588.3 L862.1,588.7 L863,589.1 L863.9,589.4 L864.9,589.7 L865.9,590 L866.9,590.2 L867.9,590.4 L869,590.6 L870,590.7 L871.1,590.8 L872.2,590.9 L873.3,590.9 L874.4,590.9 L875.5,590.8 L876.6,590.7 L877.6,590.6 L878.7,590.4 L879.7,590.2 L880.7,590 L881.7,589.7 L882.7,589.4 L883.6,589.1 L884.5,588.7 L885.3,588.3 L886.1,587.9 L886.9,587.4 L887.6,587 L888.2,586.5 L888.8,586 L889.4,585.4 L889.9,584.9 L890.3,584.3 L890.7,583.7 L891,583.1 L891.2,582.5 L891.4,581.9" />
<path class="kt" d="M855.2,584.4 L855.4,585 L855.6,585.6 L855.9,586.2 L856.3,586.8 L856.7,587.4 L857.2,587.9 L857.8,588.5 L858.4,589 L859,589.5 L859.7,589.9 L860.5,590.4 L861.3,590.8 L862.1,591.2 L863,591.6 L863.9,591.9 L864.9,592.2 L865.9,592.5 L866.9,592.7 L867.9,592.9 L869,593.1 L870,593.2 L871.1,593.3 L872.2,593.4 L873.3,593.4 L874.4,593.4 L875.5,593.3 L876.6,593.2 L877.6,593.1 L878.7,592.9 L879.7,592.7 L880.7,592.5 L881.7,592.2 L882.7,591.9 L883.6,591.6 L884.5,591.2 L885.3,590.8 L886.1,590.4 L886.9,589.9 L887.6,589.5 L888.2,589 L888.8,588.5 L889.4,587.9 L889.9,587.4 L890.3,586.8 L890.7,586.2 L891,585.6 L891.2,585 L891.4,584.4" />
<path class="k" d="M855,586.7 L855.2,587.4 L855.3,588 L855.6,588.7 L855.9,589.3 L856.3,589.9 L856.8,590.5 L857.3,591.1 L857.9,591.7 L858.5,592.2 L859.2,592.7 L860,593.2 L860.8,593.7 L861.7,594.1 L862.6,594.5 L863.5,594.9 L864.5,595.2 L865.5,595.5 L866.6,595.8 L867.7,596 L868.8,596.2 L869.9,596.3 L871,596.4 L872.2,596.5 L873.3,596.5 L874.4,596.5 L875.6,596.4 L876.7,596.3 L877.8,596.2 L878.9,596 L880,595.8 L881.1,595.5 L882.1,595.2 L883.1,594.9 L884,594.5 L884.9,594.1 L885.8,593.7 L886.6,593.2 L887.4,592.7 L888.1,592.2 L888.7,591.7 L889.3,591.1 L889.8,590.5 L890.3,589.9 L890.7,589.3 L891,588.7 L891.3,588 L891.4,587.4 L891.6,586.7" />
<path class="kt" d="M855,588.8 L855.2,589.5 L855.3,590.1 L855.6,590.8 L855.9,591.4 L856.3,592 L856.8,592.6 L857.3,593.2 L857.9,593.8 L858.5,594.3 L859.2,594.8 L860,595.3 L860.8,595.8 L861.7,596.2 L862.6,596.6 L863.5,597 L864.5,597.3 L865.5,597.6 L866.6,597.9 L867.7,598.1 L868.8,598.3 L869.9,598.4 L871,598.5 L872.2,598.6 L873.3,598.6 L874.4,598.6 L875.6,598.5 L876.7,598.4 L877.8,598.3 L878.9,598.1 L880,597.9 L881.1,597.6 L882.1,597.3 L883.1,597 L884,596.6 L884.9,596.2 L885.8,595.8 L886.6,595.3 L887.4,594.8 L888.1,594.3 L888.7,593.8 L889.3,593.2 L889.8,592.6 L890.3,592 L890.7,591.4 L891,590.8 L891.3,590.1 L891.4,589.5 L891.6,588.8" />
<path class="k" d="M855,591.8 L855,592.5 L855.2,593.2 L855.4,593.8 L855.6,594.5 L856,595.2 L856.4,595.8 L856.9,596.4 L857.5,597 L858.1,597.6 L858.8,598.2 L859.5,598.7 L860.4,599.2 L861.2,599.7 L862.2,600.1 L863.1,600.5 L864.1,600.9 L865.2,601.2 L866.3,601.5 L867.4,601.7 L868.6,601.9 L869.7,602.1 L870.9,602.2 L872.1,602.3 L873.3,602.3 L874.5,602.3 L875.7,602.2 L876.9,602.1 L878,601.9 L879.2,601.7 L880.3,601.5 L881.4,601.2 L882.4,600.9 L883.5,600.5 L884.4,600.1 L885.4,599.7 L886.2,599.2 L887.1,598.7 L887.8,598.2 L888.5,597.6 L889.1,597 L889.7,596.4 L890.2,595.8 L890.6,595.2 L891,594.5 L891.2,593.8 L891.4,593.2 L891.6,592.5 L891.6,591.8" />
<path class="k" d="M856.9,595.3 L857.1,595.8 L857.4,596.3 L857.7,596.8 L858.1,597.3 L858.5,597.7 L859,598.2 L859.5,598.7 L860.1,599.1 L860.7,599.5 L861.3,599.9 L862,600.3 L862.7,600.6 L863.5,600.9 L864.3,601.2 L865.1,601.5 L865.9,601.7 L866.8,602 L867.7,602.2 L868.6,602.3 L869.5,602.5 L870.5,602.6 L871.4,602.6 L872.3,602.7 L873.3,602.7 L874.3,602.7 L875.2,602.6 L876.1,602.6 L877.1,602.5 L878,602.3 L878.9,602.2 L879.8,602 L880.7,601.7 L881.5,601.5 L882.3,601.2 L883.1,600.9 L883.9,600.6 L884.6,600.3 L885.3,599.9 L885.9,599.5 L886.5,599.1 L887.1,598.7 L887.6,598.2 L888.1,597.7 L888.5,597.3 L888.9,596.8 L889.2,596.3 L889.5,595.8 L889.7,595.3" />
<path class="k" d="M857.2,596 L857.3,602.8" />
<path class="k" d="M889.4,596 L889.3,602.8" />
<path class="k" d="M857.3,602.8 L857.3,603.4 L857.4,604 L857.6,604.6 L857.8,605.2 L858.1,605.7 L858.5,606.3 L859,606.8 L859.4,607.3 L860,607.9 L860.6,608.3 L861.3,608.8 L862,609.2 L862.8,609.6 L863.6,610 L864.4,610.4 L865.3,610.7 L866.2,611 L867.2,611.2 L868.2,611.4 L869.2,611.6 L870.2,611.7 L871.2,611.8 L872.3,611.9 L873.3,611.9 L874.3,611.9 L875.4,611.8 L876.4,611.7 L877.4,611.6 L878.4,611.4 L879.4,611.2 L880.4,611 L881.3,610.7 L882.2,610.4 L883,610 L883.8,609.6 L884.6,609.2 L885.3,608.8 L886,608.3 L886.6,607.9 L887.2,607.3 L887.6,606.8 L888.1,606.3 L888.5,605.7 L888.8,605.2 L889,604.6 L889.2,604 L889.3,603.4 L889.3,602.8" />
<path class="k" d="M857.3,602.8 C857,621 851,632 841.9,637.7 L719,711.5 C703,721 696,730 690.4,743.3 L618.5,929 C614,940 606,947 592.7,952.8 L585.7,955.9 L556.6,970.9" />
<path class="k" d="M889.3,602.8 C888.6,627 880,651 862,662.8 L735,737 C722,745 718,752 713.6,762.6 L650.4,936 C646,948 641,956 630,965.5 L602,983.4 L572.6,1003.8" />
<path class="kl" d="M585.2,956.4 C593,962 599,974 599.6,984.8" />
<path class="kl" d="M591.2,953.6 C598.5,959.5 603.5,970 603.6,979.2" />
<path class="k" d="M577.2,993.8 L577.1,995.8 L576.7,997.7 L576.1,999.4 L575.4,1000.9 L574.3,1002.2 L573.2,1003.2 L571.8,1004 L570.3,1004.4 L568.7,1004.6 L567,1004.5 L565.2,1004 L563.4,1003.3 L561.6,1002.3 L559.8,1001.1 L558.1,999.6 L556.5,997.9 L555,996.1 L553.6,994 L552.5,991.9 L551.4,989.7 L550.7,987.4 L550.1,985.2 L549.7,982.9 L549.6,980.8 L549.7,978.8 L550.1,976.9 L550.7,975.2 L551.4,973.7 L552.5,972.4 L553.6,971.4 L555,970.6 L556.5,970.2 L558.1,970 L559.8,970.1 L561.6,970.6 L563.4,971.3 L565.2,972.3 L567,973.5 L568.7,975 L570.3,976.7 L571.8,978.5 L573.2,980.6 L574.3,982.7 L575.4,984.9 L576.1,987.2 L576.7,989.4 L577.1,991.7 L577.2,993.8Z" />
<path class="k" d="M562.5,969.6 L563.5,969.9 L564.5,970.3 L565.5,970.8 L566.5,971.3 L567.5,972 L568.5,972.7 L569.4,973.5 L570.4,974.4 L571.3,975.3 L572.1,976.3 L573,977.3 L573.8,978.4 L574.5,979.5 L575.2,980.7 L575.8,981.9 L576.4,983.1 L577,984.4 L577.4,985.6 L577.8,986.9 L578.1,988.1 L578.4,989.4 L578.6,990.6 L578.7,991.8 L578.7,993 L578.7,994.1 L578.6,995.3 L578.4,996.3 L578.1,997.3 L577.8,998.3 L577.4,999.2 L577,1000 L576.4,1000.7 L575.8,1001.4 L575.2,1002 L574.5,1002.5 L573.8,1003 L573,1003.3 L572.1,1003.6 L571.3,1003.7 L570.4,1003.8 L569.4,1003.8 L568.5,1003.7 L567.5,1003.5 L566.5,1003.2 L565.5,1002.8 L564.5,1002.3 L563.5,1001.8 L562.5,1001.2" />
<path class="kt" d="M566,1001.6 L565.2,1001.4 L564.3,1001 L563.4,1000.6 L562.6,1000.1 L561.7,999.6 L560.9,998.9 L560.1,998.2 L559.3,997.5 L558.5,996.6 L557.7,995.8 L557,994.8 L556.4,993.9 L555.7,992.9 L555.1,991.8 L554.6,990.8 L554.1,989.7 L553.7,988.6 L553.3,987.5 L553,986.4 L552.8,985.3 L552.6,984.2 L552.5,983.1 L552.4,982 L552.4,981 L552.5,980 L552.6,979 L552.8,978.1 L553.1,977.3 L553.4,976.4 L553.8,975.7 L554.2,975 L554.7,974.4 L555.2,973.8 L555.8,973.3 L556.5,972.9 L557.1,972.6 L557.9,972.4 L558.6,972.2 L559.4,972.1 L560.2,972.1 L561,972.2 L561.9,972.4 L562.7,972.6 L563.6,972.9 L564.4,973.3 L565.3,973.8 L566.2,974.4 L567,975" />
<path class="k" d="M563.5,966.8 L563.8,963.5 L566.8,962 L567.3,965" />
<path class="ax" d="M551.7,994.2 L568.6,984" />
<path class="ax" d="M509,1018.6 L539.5,1001.7" />
<path class="ax" d="M553.5,913.6 L553.5,958.5 L562.8,963.9" />
<path class="kw" d="M476.3,862.2 L493.6,873.2 C497.3,875.3 497.3,881 493.5,883 L490.8,882.6 L472.5,872.2" />
<path class="kt" d="M479.6,864.3 C481.8,867.3 481.2,871.1 477.4,873.6" />
<path class="kt" d="M482.5,866.1 C484.7,869.1 484.1,872.9 480.3,875.4" />
<path class="kt" d="M485.4,867.9 C487.6,870.9 487,874.7 483.2,877.2" />
<path class="kt" d="M488.3,869.7 C490.5,872.7 489.9,876.5 486.1,879" />
<path class="kt" d="M491.2,871.5 C493.4,874.5 492.8,878.3 489,880.8" />
<path class="kt" d="M494.1,873.3 C496.3,876.3 495.7,880.1 491.9,882.6" />
<path class="kt" d="M497.2,876.8 L497.2,877.4 L497.1,878 L497,878.6 L496.8,879.2 L496.6,879.8 L496.4,880.4 L496.1,880.9 L495.8,881.4 L495.4,881.8 L495.1,882.2 L494.7,882.5 L494.3,882.8 L493.9,882.9 L493.5,883 L493.2,883 L492.9,882.9 L492.5,882.7 L492.2,882.5 L492,882.2 L491.8,881.8 L491.6,881.4 L491.5,880.9 L491.4,880.4 L491.4,879.8 L491.4,879.2 L491.5,878.6 L491.6,878 L491.8,877.4 L492,876.8 L492.2,876.2 L492.5,875.7 L492.9,875.2 L493.2,874.8 L493.5,874.4 L493.9,874.1 L494.3,873.8 L494.7,873.7 L495.1,873.6 L495.4,873.6 L495.8,873.7 L496.1,873.9 L496.4,874.1 L496.6,874.4 L496.8,874.8 L497,875.2 L497.1,875.7 L497.2,876.2 L497.2,876.8Z" />
<path class="kw" d="M462.8,862.5 L464.5,858 L469.8,856 L476.5,858.3 L478,863.2 L476.8,868.5 L473.8,873 L468.8,874.5 L464.3,872.3 L462.5,867.5 Z" />
<path class="k" d="M467,860.5 L472.2,858.7 L476.2,861.5 L476.3,867 L473,871.5 L468.6,872.2 L466,868.5 L465.7,863.5 Z" />
<path class="kt" d="M464.5,858 L467,860.5 M462.8,862.5 L465.7,863.5 M462.5,867.5 L466,868.5 M464.3,872.3 L468.6,872.2 M469.8,856 L472.2,858.7" />
<path class="ax" d="M496.5,880.4 L498,881.3" />
<path class="kw" d="M516.2,884.6 L516.1,885.9 L515.9,887.2 L515.6,888.5 L515.1,889.8 L514.6,891.1 L513.9,892.3 L513.1,893.4 L512.2,894.4 L511.3,895.3 L510.3,896 L509.3,896.7 L508.3,897.1 L507.3,897.4 L506.3,897.5 L505.3,897.4 L504.4,897.2 L503.5,896.8 L502.7,896.2 L502,895.5 L501.5,894.7 L501,893.7 L500.7,892.6 L500.5,891.4 L500.4,890.2 L500.5,888.9 L500.7,887.6 L501,886.3 L501.5,885 L502,883.7 L502.7,882.5 L503.5,881.4 L504.4,880.4 L505.3,879.5 L506.3,878.8 L507.3,878.1 L508.3,877.7 L509.3,877.4 L510.3,877.3 L511.3,877.4 L512.2,877.6 L513.1,878 L513.9,878.6 L514.6,879.3 L515.1,880.1 L515.6,881.1 L515.9,882.2 L516.1,883.4 L516.2,884.6Z"/>
<path class="kw" d="M517.3,884.1 L517.2,885.4 L517,886.7 L516.7,888 L516.2,889.3 L515.7,890.6 L515,891.8 L514.2,892.9 L513.4,893.9 L512.4,894.8 L511.4,895.5 L510.4,896.2 L509.4,896.6 L508.4,896.9 L507.4,897 L506.4,896.9 L505.4,896.7 L504.6,896.3 L503.8,895.7 L503.1,895 L502.6,894.2 L502.1,893.2 L501.8,892.1 L501.6,890.9 L501.5,889.7 L501.6,888.4 L501.8,887.1 L502.1,885.8 L502.6,884.5 L503.1,883.2 L503.8,882 L504.6,880.9 L505.4,879.9 L506.4,879 L507.4,878.3 L508.4,877.6 L509.4,877.2 L510.4,876.9 L511.4,876.8 L512.4,876.9 L513.4,877.1 L514.2,877.5 L515,878.1 L515.7,878.8 L516.2,879.6 L516.7,880.6 L517,881.7 L517.2,882.9 L517.3,884.1Z"/>
<path class="kw" style="stroke-width:1.6" d="M514.1,885.8 L514.1,886.5 L514,887.2 L513.8,887.9 L513.6,888.6 L513.3,889.3 L512.9,890 L512.5,890.6 L512,891.1 L511.6,891.6 L511.1,892 L510.5,892.3 L510,892.5 L509.5,892.7 L508.9,892.7 L508.4,892.6 L507.9,892.5 L507.5,892.3 L507.1,892 L506.7,891.5 L506.4,891.1 L506.2,890.5 L506,889.9 L505.9,889.3 L505.9,888.6 L505.9,887.9 L506,887.2 L506.2,886.5 L506.4,885.8 L506.7,885.1 L507.1,884.4 L507.5,883.8 L507.9,883.3 L508.4,882.8 L508.9,882.4 L509.5,882.1 L510,881.9 L510.5,881.7 L511.1,881.7 L511.6,881.8 L512,881.9 L512.5,882.1 L512.9,882.4 L513.3,882.9 L513.6,883.3 L513.8,883.9 L514,884.5 L514.1,885.1 L514.1,885.8Z"/>
<path class="kt" d="M508.1,887.1 L508.2,886.7 L508.3,886.4 L508.4,886.1 L508.6,885.8 L508.7,885.5 L508.9,885.2 L509.1,884.9 L509.3,884.6 L509.5,884.4 L509.7,884.2 L509.9,884 L510.2,883.8 L510.4,883.7 L510.7,883.6 L510.9,883.5 L511.1,883.4 L511.4,883.4 L511.6,883.4 L511.8,883.4 L512.1,883.5 L512.3,883.6 L512.5,883.7 L512.7,883.8 L512.9,884 L513,884.2 L513.2,884.4 L513.3,884.6 L513.4,884.9 L513.5,885.1 L513.6,885.4 L513.6,885.7 L513.7,886 L513.7,886.4 L513.7,886.7 L513.7,887 L513.6,887.4 L513.6,887.7 L513.5,888.1 L513.4,888.4 L513.3,888.7 L513.1,889.1 L513,889.4 L512.8,889.7 L512.6,890 L512.4,890.2 L512.2,890.5 L512,890.7 L511.8,890.9" />
<path class="kw" d="M535.6,895.9 L535.5,897.2 L535.3,898.5 L535,899.8 L534.5,901.1 L534,902.4 L533.3,903.6 L532.5,904.7 L531.7,905.7 L530.7,906.6 L529.7,907.3 L528.7,908 L527.7,908.4 L526.7,908.7 L525.7,908.8 L524.7,908.7 L523.8,908.5 L522.9,908.1 L522.1,907.5 L521.4,906.8 L520.9,906 L520.4,905 L520.1,903.9 L519.9,902.7 L519.8,901.5 L519.9,900.2 L520.1,898.9 L520.4,897.6 L520.9,896.3 L521.4,895 L522.1,893.8 L522.9,892.7 L523.8,891.7 L524.7,890.8 L525.7,890.1 L526.7,889.4 L527.7,889 L528.7,888.7 L529.7,888.6 L530.7,888.7 L531.7,888.9 L532.5,889.3 L533.3,889.9 L534,890.6 L534.5,891.4 L535,892.4 L535.3,893.5 L535.5,894.7 L535.6,895.9Z"/>
<path class="kw" d="M536.7,895.4 L536.6,896.7 L536.4,898 L536.1,899.3 L535.6,900.6 L535.1,901.9 L534.4,903.1 L533.6,904.2 L532.8,905.2 L531.8,906.1 L530.8,906.8 L529.8,907.5 L528.8,907.9 L527.8,908.2 L526.8,908.3 L525.8,908.2 L524.9,908 L524,907.6 L523.2,907 L522.5,906.3 L522,905.5 L521.5,904.5 L521.2,903.4 L521,902.2 L520.9,901 L521,899.7 L521.2,898.4 L521.5,897.1 L522,895.8 L522.5,894.5 L523.2,893.3 L524,892.2 L524.9,891.2 L525.8,890.3 L526.8,889.6 L527.8,888.9 L528.8,888.5 L529.8,888.2 L530.8,888.1 L531.8,888.2 L532.8,888.4 L533.6,888.8 L534.4,889.4 L535.1,890.1 L535.6,890.9 L536.1,891.9 L536.4,893 L536.6,894.2 L536.7,895.4Z"/>
<path class="kw" style="stroke-width:1.6" d="M533.5,897.1 L533.5,897.8 L533.4,898.5 L533.2,899.2 L533,899.9 L532.7,900.6 L532.3,901.3 L531.9,901.9 L531.4,902.4 L531,902.9 L530.5,903.3 L529.9,903.6 L529.4,903.8 L528.9,904 L528.3,904 L527.8,903.9 L527.4,903.8 L526.9,903.6 L526.5,903.3 L526.1,902.8 L525.8,902.4 L525.6,901.8 L525.4,901.2 L525.3,900.6 L525.3,899.9 L525.3,899.2 L525.4,898.5 L525.6,897.8 L525.8,897.1 L526.1,896.4 L526.5,895.7 L526.9,895.1 L527.4,894.6 L527.8,894.1 L528.3,893.7 L528.9,893.4 L529.4,893.2 L529.9,893 L530.5,893 L531,893.1 L531.4,893.2 L531.9,893.4 L532.3,893.7 L532.7,894.2 L533,894.6 L533.2,895.2 L533.4,895.8 L533.5,896.4 L533.5,897.1Z"/>
<path class="kt" d="M527.5,898.4 L527.6,898 L527.7,897.7 L527.8,897.4 L528,897.1 L528.1,896.8 L528.3,896.5 L528.5,896.2 L528.7,895.9 L528.9,895.7 L529.1,895.5 L529.3,895.3 L529.6,895.1 L529.8,895 L530.1,894.9 L530.3,894.8 L530.5,894.7 L530.8,894.7 L531,894.7 L531.2,894.7 L531.5,894.8 L531.7,894.9 L531.9,895 L532.1,895.1 L532.3,895.3 L532.4,895.5 L532.6,895.7 L532.7,895.9 L532.8,896.2 L532.9,896.4 L533,896.7 L533,897 L533.1,897.3 L533.1,897.7 L533.1,898 L533.1,898.3 L533,898.7 L533,899 L532.9,899.4 L532.8,899.7 L532.7,900 L532.5,900.4 L532.4,900.7 L532.2,901 L532,901.3 L531.8,901.5 L531.6,901.8 L531.4,902 L531.2,902.2" />
<path class="rod" d="M510.5,888.3 L527.5,897.8" />
<path class="rodw" d="M510.5,888.3 L527.5,897.8" />
<path class="rod" d="M530.5,899.5 L548.5,909.5" />
<path class="rodw" d="M530.5,899.5 L548.5,909.5" />
<path d="M502.3,937.2 L551.4,909.7" style="stroke:#1a1a1a;stroke-width:7;stroke-linecap:round"/>
<path d="M502.3,937.2 L551.4,909.7" style="stroke:#fff;stroke-width:4.6;stroke-linecap:round"/>
<path d="M501.1,935.1 L550.2,907.6" style="stroke:#1a1a1a;stroke-width:2.2;stroke-linecap:butt"/>
<path d="M502,937.8 L505.1,936" style="stroke:#333;stroke-width:3.4;stroke-linecap:round"/>
<path d="M502,937.8 L505.1,936" style="stroke:#ddd;stroke-width:1.6;stroke-linecap:round"/>
<path d="M548.6,912.2 L551.1,910.8" style="stroke:#333;stroke-width:3;stroke-linecap:round"/>
<path d="M548.6,912.2 L551.1,910.8" style="stroke:#fff;stroke-width:1.4;stroke-linecap:round"/>
<path class="k" d="M519.5,978.2 L520.6,977.6 L521.9,977.2 L523.2,976.9 L524.6,976.8 L526.1,976.9 L527.6,977.1 L529.2,977.5 L530.8,978 L532.4,978.7 L534,979.6 L535.7,980.6 L537.3,981.8 L538.9,983.1 L540.5,984.5 L542.1,986.1 L543.6,987.7 L545.1,989.5 L546.5,991.3 L547.8,993.2 L549,995.2 L550.2,997.2 L551.2,999.3 L552.2,1001.4 L553,1003.5 L553.7,1005.5 L554.3,1007.6 L554.8,1009.7 L555.1,1011.7 L555.3,1013.6 L555.4,1015.5 L555.3,1017.3 L555.2,1019 L554.9,1020.6 L554.4,1022.1 L553.8,1023.5 L553.2,1024.7 L552.3,1025.8 L551.4,1026.8 L550.4,1027.6 L549.3,1028.2 L548.1,1028.7 L546.8,1029 L545.4,1029.2 L543.9,1029.2 L542.4,1029 L540.9,1028.6 L539.3,1028.1 L537.7,1027.5" />
<path class="k" d="M511.6,1010.9 L510.2,1007.6 L509.1,1004.2 L508.2,1001 L507.7,997.8 L507.5,994.7 L507.6,991.9 L508.1,989.3 L508.8,987 L509.9,985 L511.3,983.4 L512.9,982.1 L514.8,981.2 L516.9,980.8 L519.1,980.7 L521.5,981.1 L524.1,981.9 L526.6,983.1 L529.2,984.7 L531.8,986.6 L534.3,988.9 L536.7,991.4 L539,994.2 L541.1,997.2 L543,1000.4 L544.7,1003.6 L546.1,1007 L547.2,1010.3 L548,1013.6 L548.5,1016.7 L548.7,1019.7 L548.5,1022.6 L548.1,1025.1 L547.3,1027.4 L546.2,1029.4 L544.8,1031 L543.1,1032.2 L541.2,1033 L539.1,1033.4 L536.8,1033.4 L534.4,1033 L531.9,1032.2 L529.3,1031 L526.7,1029.3 L524.1,1027.4 L521.6,1025.1 L519.2,1022.5 L516.9,1019.7 L514.9,1016.7" />
<path class="kt" d="M525.6,1016.7 L525,1015.9 L524.3,1015.1 L523.7,1014.3 L523.1,1013.4 L522.5,1012.6 L521.9,1011.7 L521.4,1010.8 L520.9,1009.9 L520.3,1009 L519.9,1008 L519.4,1007.1 L518.9,1006.2 L518.5,1005.2 L518.1,1004.3 L517.7,1003.4 L517.4,1002.4 L517.1,1001.5 L516.8,1000.5 L516.5,999.6 L516.2,998.7 L516,997.7 L515.8,996.8 L515.6,995.9 L515.5,995 L515.4,994.1 L515.3,993.2 L515.2,992.4 L515.2,991.5 L515.2,990.7 L515.2,989.9 L515.3,989.1 L515.4,988.3 L515.5,987.5 L515.6,986.8 L515.8,986.1 L516,985.4 L516.2,984.8 L516.4,984.1 L516.7,983.5 L517,982.9 L517.3,982.4 L517.7,981.9 L518,981.4 L518.4,980.9 L518.8,980.5 L519.3,980.1 L519.7,979.7 L520.2,979.4" />
<path class="kl" d="M523.7,1028 L530.5,1023.3 M531.8,1032.1 L538,1027.7 M530.5,1023.3 L546.8,1030" />
<path class="k" d="M523.4,1028.7 L538.5,1036.4" style="stroke-width:2.4"/>
<path d="M538.2,1034.6 L548.4,1036.8 L552,1039.8 L552.6,1043.8 L549.6,1046.2 L545.7,1046 L537.3,1041.8 L536.6,1037.6 Z" style="fill:#9a9a9a;stroke:#222;stroke-width:1.2"/>
<path class="kt" d="M539.6,1035.2 L538.4,1041.6" />
<path class="kt" d="M541.4,1035.7 L540.2,1042.4" />
<path class="kt" d="M543.2,1036.2 L542,1043.1" />
<path class="kt" d="M545,1036.7 L543.8,1043.9" />
<path class="kt" d="M546.8,1037.2 L545.6,1044.6" />
<path class="kt" d="M548.6,1037.7 L547.4,1045.4" />
<ellipse cx="549.8" cy="1042.3" rx="2" ry="2.2" style="fill:#fff;stroke:#222;stroke-width:1"/>
<path class="k" d="M479.4,1053.4 L479.3,1055.9 L478.8,1058.2 L478.1,1060.3 L477.1,1062.2 L475.9,1063.8 L474.4,1065 L472.7,1065.9 L470.9,1066.5 L468.8,1066.7 L466.7,1066.5 L464.5,1066 L462.3,1065.1 L460.1,1063.9 L457.9,1062.4 L455.8,1060.6 L453.8,1058.5 L451.9,1056.2 L450.2,1053.7 L448.7,1051.1 L447.5,1048.3 L446.5,1045.6 L445.8,1042.8 L445.3,1040 L445.2,1037.4 L445.3,1034.9 L445.8,1032.6 L446.5,1030.5 L447.5,1028.6 L448.7,1027 L450.2,1025.8 L451.9,1024.9 L453.8,1024.3 L455.8,1024.1 L457.9,1024.3 L460.1,1024.8 L462.3,1025.7 L464.5,1026.9 L466.7,1028.4 L468.8,1030.2 L470.9,1032.3 L472.7,1034.6 L474.4,1037.1 L475.9,1039.7 L477.1,1042.5 L478.1,1045.2 L478.8,1048 L479.3,1050.8 L479.4,1053.4Z" />
<path class="k" d="M447.7,1040.1 L447.6,1037.9 L447.7,1035.8 L448.1,1033.9 L448.7,1032.1 L449.5,1030.5 L450.4,1029.1 L451.6,1028 L452.9,1027.1 L454.4,1026.4 L456,1026.1 L457.7,1026 L459.4,1026.2 L461.3,1026.7 L463.1,1027.5 L464.9,1028.5 L466.7,1029.7 L468.5,1031.2 L470.1,1032.9 L471.7,1034.8 L473.1,1036.8 L474.4,1039 L475.5,1041.2 L476.4,1043.5 L477.1,1045.8 L477.6,1048.1 L477.9,1050.4 L478,1052.6 L477.8,1054.7 L477.5,1056.6 L476.9,1058.4 L476.1,1060 L475.1,1061.4 L473.9,1062.5 L472.6,1063.4 L471.1,1064 L469.5,1064.3 L467.8,1064.4 L466.1,1064.2 L464.2,1063.7 L462.4,1062.9 L460.6,1061.9 L458.8,1060.6 L457,1059.1 L455.4,1057.4 L453.8,1055.5 L452.4,1053.5 L451.1,1051.3 L450.1,1049.1" />
<path class="k" d="M485.5,1006.7 L486.3,1006.3 L487.2,1006 L488.1,1005.7 L489,1005.6 L490,1005.5 L491,1005.5 L492,1005.6 L493,1005.8 L494.1,1006.1 L495.1,1006.4 L496.2,1006.9 L497.3,1007.4 L498.3,1008 L499.4,1008.7 L500.4,1009.4 L501.4,1010.2 L502.4,1011.1 L503.4,1012.1 L504.4,1013.1 L505.3,1014.2 L506.2,1015.3 L507,1016.4 L507.8,1017.6 L508.5,1018.9 L509.2,1020.1 L509.8,1021.4 L510.4,1022.8 L510.9,1024.1 L511.4,1025.4 L511.8,1026.7 L512.1,1028.1 L512.3,1029.4 L512.5,1030.7 L512.6,1032 L512.7,1033.3 L512.7,1034.5 L512.6,1035.7 L512.4,1036.8 L512.2,1037.9 L511.9,1039 L511.5,1040 L511.1,1040.9 L510.6,1041.8 L510.1,1042.6 L509.5,1043.3 L508.8,1044 L508.1,1044.6 L507.3,1045.1" />
<path class="k" d="M473.7,1065.4 L507.3,1045.1" />
<path class="k" d="M450.9,1025.4 L485.5,1006.7" />
<text transform="translate(817.5,570.6) rotate(0.03)" text-anchor="start" font-size="14" class="lbl">8</text>
<path class="ld" d="M828.3,564.8 L855,553.1" />
<text transform="translate(736.8,814.8) rotate(0.03)" text-anchor="middle" font-size="14" class="lbl">1</text>
<path class="ld" d="M706.7,785.2 L732.2,801.4" />
<text transform="translate(497.7,846.9) rotate(0.03)" text-anchor="middle" font-size="14" class="lbl">3</text>
<path class="ld" d="M494.9,849.4 L483.3,866.5" />
<text transform="translate(529.5,865) rotate(0.03)" text-anchor="middle" font-size="14" class="lbl">4</text>
<path class="ld" d="M525.9,868 L516.6,880.4" />
<text transform="translate(550.8,877.2) rotate(0.03)" text-anchor="middle" font-size="14" class="lbl">5</text>
<path class="ld" d="M546,879.6 L534.4,892.8" />
<text transform="translate(571.6,892.3) rotate(0.03)" text-anchor="middle" font-size="14" class="lbl">2</text>
<path class="ld" d="M566.9,893.6 L553,906.7" />
<text transform="translate(576.7,1058.1) rotate(0.03)" text-anchor="middle" font-size="14" class="lbl">6</text>
<path class="ld" d="M553,1026.1 L570.6,1045.7" />
<text transform="translate(520,1090) rotate(0.03)" text-anchor="middle" font-size="14" class="lbl">7</text>
<path class="ld" d="M497.4,1054.3 L515.4,1077.6" />
</svg>
</body></html>
